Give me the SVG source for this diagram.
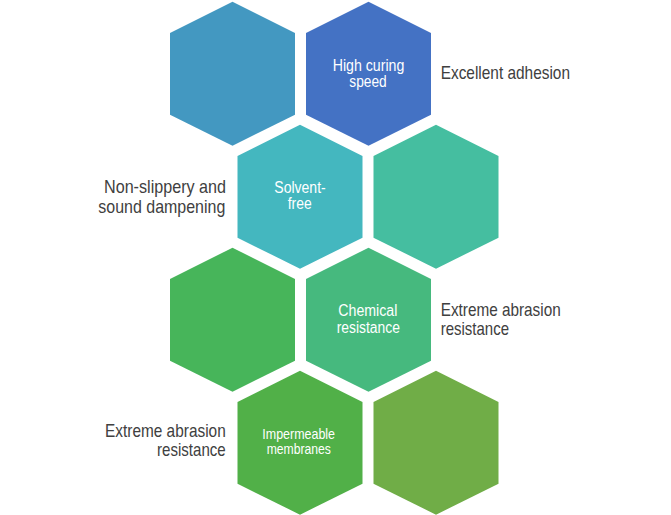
<svg xmlns="http://www.w3.org/2000/svg" width="671" height="515" viewBox="0 0 671 515">
<defs>
<style>
.hex{stroke:none}
.in{font-family:"Liberation Sans Narrow","Liberation Sans",Arial,sans-serif;fill:#ffffff;text-anchor:middle;font-size:16px}
.out{font-family:"Liberation Sans Narrow","Liberation Sans",Arial,sans-serif;fill:#404040;font-size:18.5px}
.l{text-anchor:end}
.r{text-anchor:start}
</style>
<path id="hx" d="M0,0 L62.5,31.3 L62.5,113 L0,144 L-62.5,113 L-62.5,31.3 Z"/>
</defs>
<rect width="671" height="515" fill="#ffffff"/>
<g id="hex1"><use href="#hx" x="232.5" y="1.7" fill="#4398C1"/></g>
<g id="hex2"><use href="#hx" x="368.5" y="1.7" fill="#4472C4"/>
<text class="in" x="368.5" y="70.5" textLength="71.6" lengthAdjust="spacingAndGlyphs">High curing</text>
<text class="in" x="368" y="86.8" textLength="37.4" lengthAdjust="spacingAndGlyphs">speed</text></g>
<g id="hex3"><use href="#hx" x="300" y="124.7" fill="#44B7BF"/>
<text class="in" x="300" y="192.5" textLength="51.4" lengthAdjust="spacingAndGlyphs">Solvent-</text>
<text class="in" x="299.7" y="209" textLength="24" lengthAdjust="spacingAndGlyphs">free</text></g>
<g id="hex4"><use href="#hx" x="436" y="124.7" fill="#45BEA0"/></g>
<g id="hex5"><use href="#hx" x="232.5" y="247.7" fill="#47B55A"/></g>
<g id="hex6"><use href="#hx" x="368.5" y="247.7" fill="#46B97E"/>
<text class="in" x="367.8" y="315.5" textLength="59" lengthAdjust="spacingAndGlyphs">Chemical</text>
<text class="in" x="368.3" y="332.5" textLength="63.3" lengthAdjust="spacingAndGlyphs">resistance</text></g>
<g id="hex7"><use href="#hx" x="300" y="370.7" fill="#51B048"/>
<text class="in" style="font-size:14.5px" x="298.7" y="439" textLength="72.7" lengthAdjust="spacingAndGlyphs">Impermeable</text>
<text class="in" style="font-size:14.5px" x="298.8" y="454.3" textLength="64.3" lengthAdjust="spacingAndGlyphs">membranes</text></g>
<g id="hex8"><use href="#hx" x="436" y="370.7" fill="#70AD47"/></g>
<g id="label-adhesion"><text class="out r" x="440.7" y="79" textLength="129.3" lengthAdjust="spacingAndGlyphs">Excellent adhesion</text></g>
<g id="label-nonslip">
<text class="out l" x="226" y="192.7" textLength="122" lengthAdjust="spacingAndGlyphs">Non-slippery and</text>
<text class="out l" x="225.3" y="212.5" textLength="127" lengthAdjust="spacingAndGlyphs">sound dampening</text></g>
<g id="label-abrasion-right">
<text class="out r" x="440.7" y="316" textLength="120" lengthAdjust="spacingAndGlyphs">Extreme abrasion</text>
<text class="out r" x="440.7" y="335.2" textLength="68.3" lengthAdjust="spacingAndGlyphs">resistance</text></g>
<g id="label-abrasion-left">
<text class="out l" x="225.7" y="436.7" textLength="120.7" lengthAdjust="spacingAndGlyphs">Extreme abrasion</text>
<text class="out l" x="225.7" y="455.7" textLength="68.7" lengthAdjust="spacingAndGlyphs">resistance</text></g>
</svg>
